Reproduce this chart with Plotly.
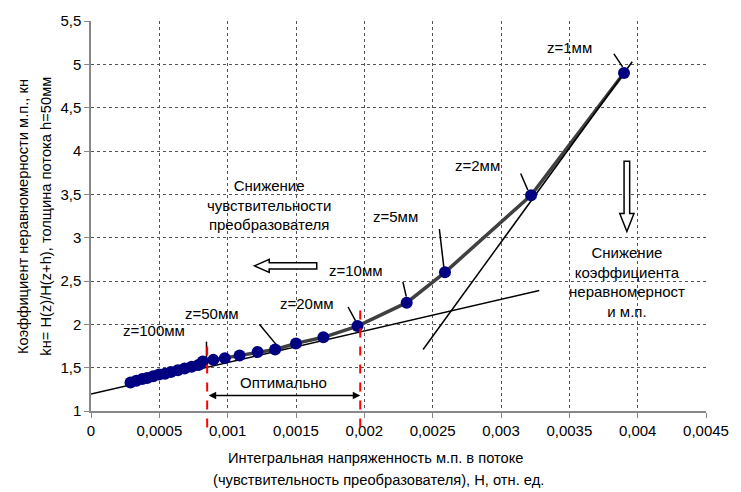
import plotly.graph_objects as go

# ---- data ----
H = [0.000289, 0.000332, 0.000375, 0.000411, 0.000455, 0.000498, 0.000541,
     0.000584, 0.000635, 0.000685, 0.000736, 0.000786, 0.000818, 0.000895,
     0.000979, 0.001087, 0.001219, 0.001347, 0.0015, 0.0017, 0.00195,
     0.00231, 0.00259, 0.00322, 0.0039]
K = [1.33, 1.35, 1.37, 1.38, 1.40, 1.42, 1.43, 1.45, 1.47, 1.49, 1.51, 1.53,
     1.57, 1.59, 1.61, 1.64, 1.68, 1.71, 1.78, 1.85, 1.98, 2.25, 2.60, 3.49, 4.90]

tan1_x = [0.0, 0.00328]
tan1_y = [1.195, 2.39]
tan2_x = [0.00243, 0.00396]
tan2_y = [1.71, 5.03]

z_labels = ["z=1мм", "z=2мм", "z=5мм", "z=10мм", "z=20мм", "z=50мм", "z=100мм"]
z_lab_x = [0.0035, 0.00283, 0.00223, 0.00194, 0.00158, 0.000882, 0.000462]
z_lab_y = [5.19, 3.83, 3.25, 2.62, 2.24, 2.13, 1.93]
lead_x0 = [0.003826, 0.003144, 0.002549, 0.002282, 0.001881, 0.001232, 0.000845]
lead_y0 = [5.12, 3.74, 3.10, 2.49, 2.20, 2.00, 1.80]
lead_x1 = [0.00389, 0.003196, 0.002583, 0.002307, 0.001936, 0.001369, 0.000845]
lead_y1 = [4.97, 3.55, 2.64, 2.32, 2.04, 1.74, 1.58]

opt_x = [0.00085, 0.00197]   # optimal range bounds
opt_top = [1.83, 2.19]
opt_bottom = 0.81
opt_arrow_y = 1.18

x_ticks = [0, 0.0005, 0.001, 0.0015, 0.002, 0.0025, 0.003, 0.0035, 0.004, 0.0045]
y_ticks = [1, 1.5, 2, 2.5, 3, 3.5, 4, 4.5, 5, 5.5]
Y0, Y1 = 1.0, 5.5

FONT = "Liberation Sans, Arial, sans-serif"
TXT = dict(family=FONT, size=15, color="black")
TTL = dict(family=FONT, size=14.7, color="black")

fig = go.Figure()

# main curve
fig.add_trace(go.Scatter(x=H, y=K, mode="lines", line=dict(color="#404040", width=3.5),
                         hoverinfo="skip", showlegend=False))
# tangent lines
fig.add_trace(go.Scatter(x=tan1_x, y=tan1_y, mode="lines", line=dict(color="black", width=1.5),
                         hoverinfo="skip", showlegend=False))
fig.add_trace(go.Scatter(x=tan2_x, y=tan2_y, mode="lines", line=dict(color="black", width=1.5),
                         hoverinfo="skip", showlegend=False))
# leader lines
lx, ly = [], []
for a, b, c, d in zip(lead_x0, lead_y0, lead_x1, lead_y1):
    lx += [a, c, None]
    ly += [b, d, None]
fig.add_trace(go.Scatter(x=lx, y=ly, mode="lines", line=dict(color="black", width=1.5),
                         hoverinfo="skip", showlegend=False))
# markers
fig.add_trace(go.Scatter(x=H, y=K, mode="markers",
                         marker=dict(color="#000080", size=12, line=dict(width=0)),
                         showlegend=False))

def ydom(v):
    return (v - Y0) / (Y1 - Y0)

shapes = []
for xv, top in zip(opt_x, opt_top):
    shapes.append(dict(type="line", xref="x", yref="y domain", x0=xv, x1=xv,
                       y0=ydom(opt_bottom), y1=ydom(top),
                       line=dict(color="red", width=2, dash="dash")))

# hollow left block arrow
ax_tip, ax_base, ax_tail, ay_c = 0.001196, 0.001304, 0.001652, 2.675
bh, hh = 0.037, 0.075
p = (f"M {ax_tip},{ay_c} L {ax_base},{ay_c+hh} L {ax_base},{ay_c+bh} "
     f"L {ax_tail},{ay_c+bh} L {ax_tail},{ay_c-bh} L {ax_base},{ay_c-bh} "
     f"L {ax_base},{ay_c-hh} Z")
shapes.append(dict(type="path", xref="x", yref="y", path=p,
                   fillcolor="white", line=dict(color="black", width=1.5)))
# hollow down block arrow
dx_c, dy_top, dy_base, dy_tip = 0.003921, 3.883, 3.279, 3.071
bw, hw = 0.0000205, 0.000052
p2 = (f"M {dx_c},{dy_tip} L {dx_c-hw},{dy_base} L {dx_c-bw},{dy_base} "
      f"L {dx_c-bw},{dy_top} L {dx_c+bw},{dy_top} L {dx_c+bw},{dy_base} "
      f"L {dx_c+hw},{dy_base} Z")
shapes.append(dict(type="path", xref="x", yref="y", path=p2,
                   fillcolor="white", line=dict(color="black", width=1.5)))

ann = []
for t, xx, yy in zip(z_labels, z_lab_x, z_lab_y):
    ann.append(dict(x=xx, y=yy, xref="x", yref="y", text=t, showarrow=False, font=TXT))
ann.append(dict(x=0.001304, y=3.38, xref="x", yref="y",
                text="Снижение<br>чувствительности<br>преобразователя",
                showarrow=False, font=TXT))
ann.append(dict(x=0.00392, y=2.49, xref="x", yref="y",
                text="Снижение<br>коэффициента<br>неравномерност<br>и м.п.",
                showarrow=False, font=TXT))
ann.append(dict(x=0.001412, y=1.33, xref="x", yref="y", text="Оптимально",
                showarrow=False, font=TXT))
ann.append(dict(x=opt_x[1], y=opt_arrow_y, ax=opt_x[0], ay=opt_arrow_y,
                xref="x", yref="y", axref="x", ayref="y", text="",
                showarrow=True, arrowhead=2, startarrowhead=2, arrowside="end+start",
                arrowwidth=1.5, arrowsize=1, arrowcolor="black"))
# axis titles
ann.append(dict(x=-0.1106, y=0.5, xref="paper", yref="paper", textangle=-90,
                xanchor="center", yanchor="middle",
                text="Коэффициент неравномерности м.п., кн", showarrow=False, font=TTL))
ann.append(dict(x=-0.0737, y=0.5, xref="paper", yref="paper", textangle=-90,
                xanchor="center", yanchor="middle",
                text="kн= H(z)/H(z+h), толщина потока h=50мм", showarrow=False, font=TTL))
ann.append(dict(x=0.463, y=-0.121, xref="paper", yref="paper",
                xanchor="center", yanchor="middle",
                text="Интегральная напряженность м.п. в потоке", showarrow=False, font=TTL))
ann.append(dict(x=0.468, y=-0.176, xref="paper", yref="paper",
                xanchor="center", yanchor="middle",
                text="(чувствительность преобразователя), Н, отн. ед.", showarrow=False,
                font=TTL))

fig.update_layout(
    width=741, height=492,
    margin=dict(l=91, r=26, t=14, b=81),
    paper_bgcolor="white", plot_bgcolor="white",
    separators=", ",
    shapes=shapes, annotations=ann,
    showlegend=False,
    font=dict(family=FONT, size=15, color="black"),
)
fig.update_xaxes(range=[0, 0.0045], tickvals=x_ticks, tickformat="~g",
                 showgrid=True, gridcolor="#555", griddash="dot", gridwidth=1,
                 showline=True, linecolor="#888", linewidth=1.5,
                 ticks="outside", ticklen=5, tickcolor="#888",
                 zeroline=False, tickfont=dict(size=15))
fig.update_yaxes(range=[Y0, Y1], tickvals=y_ticks,
                 showgrid=True, gridcolor="#555", griddash="dot", gridwidth=1,
                 showline=True, linecolor="#888", linewidth=1.5,
                 ticks="outside", ticklen=5, tickcolor="#888",
                 zeroline=False, tickfont=dict(size=15))

fig.write_html("out.html")
